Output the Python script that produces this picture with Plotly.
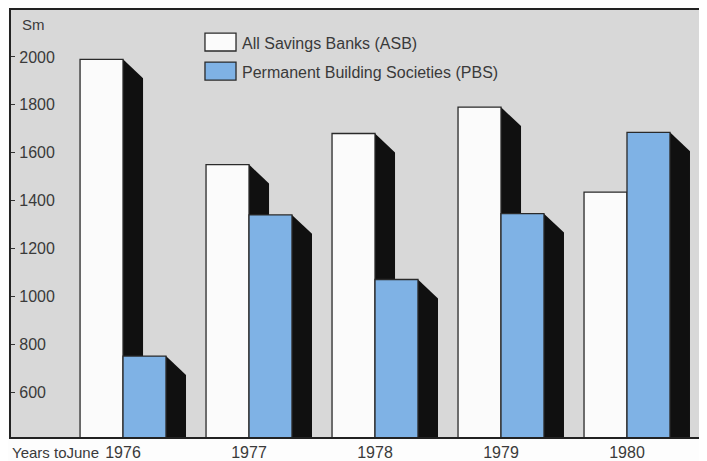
import plotly.graph_objects as go

# ---- data ----
years = ["1976", "1977", "1978", "1979", "1980"]
asb_values = [1990, 1550, 1680, 1790, 1435]   # All Savings Banks ($m)
pbs_values = [750, 1340, 1070, 1345, 1685]    # Permanent Building Societies ($m)
y_ticks = [600, 800, 1000, 1200, 1400, 1600, 1800, 2000]
series_names = ["All Savings Banks (ASB)", "Permanent Building Societies (PBS)"]

# ---- styling ----
BAR_W = 0.341
SH_DX = 0.159   # shadow horizontal offset (x units)
SH_DY = 79      # shadow vertical drop (y units)
Y_MIN, Y_MAX = 412, 2196
X_MIN, X_MAX = -0.889, 4.635
WHITE = "#fbfbfb"
BLUE = "#7fb2e5"
EDGE = "#2a2a2a"
SHADOW = "#101010"
TXT = "#3a3a3a"
FONT = "Liberation Sans, Arial, sans-serif"

xs = list(range(len(years)))

fig = go.Figure()
fig.add_trace(go.Bar(
    x=xs, y=asb_values, width=BAR_W, offset=-BAR_W, name=series_names[0],
    marker=dict(color=WHITE, line=dict(color=EDGE, width=1.3)), showlegend=False))
fig.add_trace(go.Bar(
    x=xs, y=pbs_values, width=BAR_W, offset=0, name=series_names[1],
    marker=dict(color=BLUE, line=dict(color=EDGE, width=1.3)), showlegend=False))

# 3D-style shadows, computed from the values, beneath the bars
shapes = []
for i, (a, p) in enumerate(zip(asb_values, pbs_values)):
    for xr, v in ((i, a), (i + BAR_W, p)):
        path = (f"M {xr},{v} L {xr + SH_DX},{v - SH_DY} "
                f"L {xr + SH_DX},{Y_MIN} L {xr},{Y_MIN} Z")
        shapes.append(dict(type="path", path=path, xref="x", yref="y",
                           fillcolor=SHADOW, line=dict(width=0), layer="below"))

# manual legend (large swatches)
leg = [(WHITE, 0.904, 0.946, 0.9227, series_names[0]),
       (BLUE, 0.836, 0.878, 0.8548, series_names[1])]
annotations = []
for col, y0, y1, yt, name in leg:
    shapes.append(dict(type="rect", xref="paper", yref="paper",
                       x0=0.2787, x1=0.3233, y0=y0, y1=y1,
                       fillcolor=col, line=dict(color=EDGE, width=1.3)))
    annotations.append(dict(text=name, xref="paper", yref="paper", x=0.329, y=yt,
                            xanchor="left", yanchor="middle", showarrow=False,
                            font=dict(size=16, color=TXT, family=FONT)))

annotations.append(dict(text="Sm", xref="paper", yref="paper", x=0.0129, y=0.965,
                        xanchor="left", yanchor="middle", showarrow=False,
                        font=dict(size=15, color=TXT, family=FONT)))
annotations.append(dict(text="Years toJune", xref="paper", yref="paper", x=0.13, y=-0.036,
                        xanchor="right", yanchor="middle", showarrow=False,
                        font=dict(size=15, color=TXT, family=FONT)))

fig.update_layout(
    width=699, height=453,
    margin=dict(l=3, r=0, t=2, b=24),
    paper_bgcolor="#fdfdfd",
    plot_bgcolor="#d8d8d8",
    barmode="overlay",
    shapes=shapes,
    annotations=annotations,
    font=dict(family=FONT, color=TXT),
    xaxis=dict(range=[X_MIN, X_MAX], tickvals=xs, ticktext=years,
               showgrid=False, zeroline=False, showline=True, mirror=True,
               linecolor="#222", linewidth=2, ticks="",
               tickfont=dict(size=16, color=TXT, family=FONT)),
    yaxis=dict(range=[Y_MIN, Y_MAX], tickvals=y_ticks,
               ticktext=["\u00a0" + str(v) for v in y_ticks],
               showgrid=False, zeroline=False, showline=True,
               linecolor="#222", linewidth=2, ticks="inside", ticklen=4,
               tickcolor="#333", ticklabelposition="inside",
               tickfont=dict(size=16, color=TXT, family=FONT)),
)

fig.write_html("out.html")
